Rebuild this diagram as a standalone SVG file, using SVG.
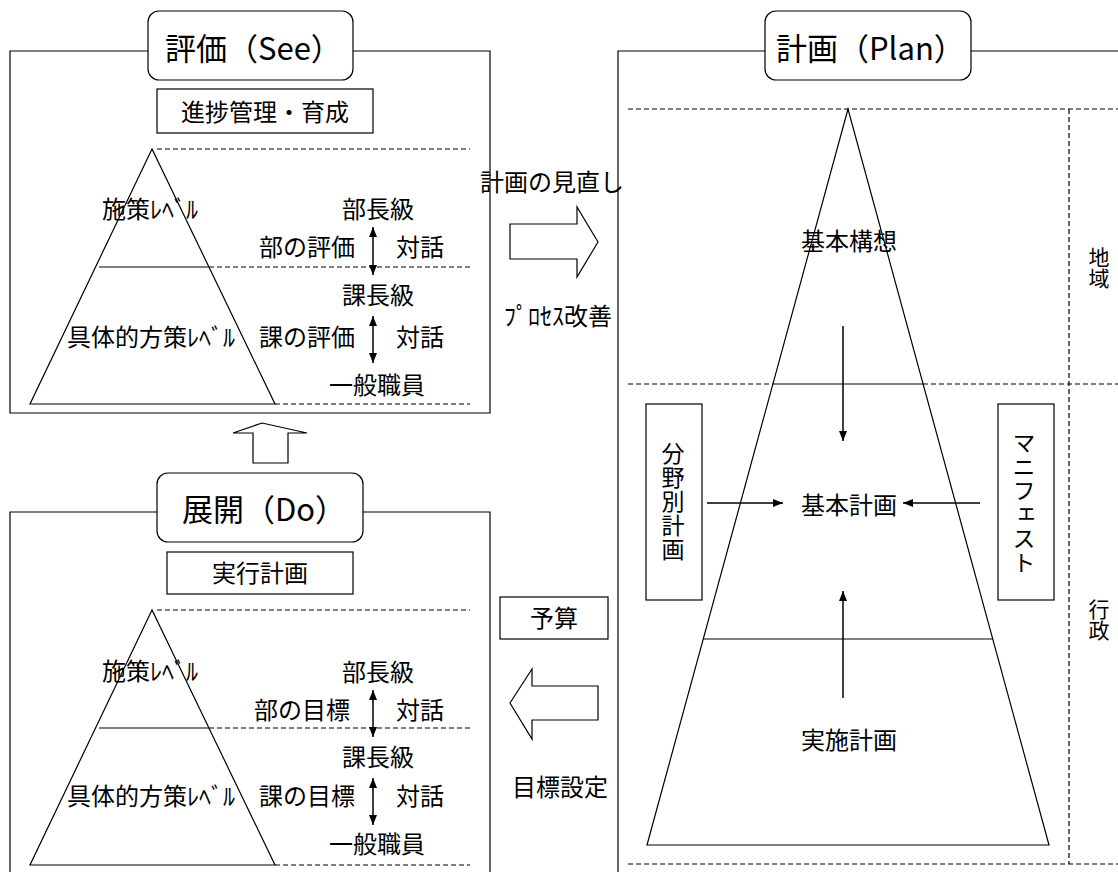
<svg xmlns="http://www.w3.org/2000/svg" width="1118" height="872" viewBox="0 0 1118 872">
<style>
text{font-family:"Noto Sans CJK JP","Noto Sans CJK SC",sans-serif;fill:#000;}
.t{font-size:24px;}
.h{font-size:31px;}
.v{font-size:21px;writing-mode:vertical-rl;}
.vc{font-size:23px;writing-mode:vertical-rl;letter-spacing:1px;}
.c{text-anchor:middle;}
.ln{stroke:#000;stroke-width:1.2;fill:none;}
.dash{stroke:#000;stroke-width:1.2;fill:none;stroke-dasharray:5 3;}
.box{stroke:#000;stroke-width:1.2;fill:#fff;}
.arr{stroke:#000;stroke-width:1.5;fill:none;}
</style>
<defs>
<marker id="ah" viewBox="0 0 10 8" refX="10" refY="4" markerWidth="10" markerHeight="8" markerUnits="userSpaceOnUse" orient="auto-start-reverse">
<path d="M0,0 L10,4 L0,8 z" fill="#000"/>
</marker>
</defs>
<rect width="1118" height="872" fill="#fff"/>

<g id="see-panel">
<path class="ln" d="M148,51 H10 V413 H490 V51 H353"/>
<line class="dash" x1="157" y1="149" x2="470" y2="149"/>
<path class="ln" d="M152,149 L30,404 H275 Z"/>
<line class="ln" x1="99" y1="267" x2="209" y2="267"/>
<line class="dash" x1="209" y1="267" x2="470" y2="267"/>
<line class="dash" x1="275" y1="404" x2="470" y2="404"/>
<text class="t" x="102" y="218">施策ﾚﾍﾞﾙ</text>
<text class="t" x="67" y="346">具体的方策ﾚﾍﾞﾙ</text>
<text class="t" x="342" y="218">部長級</text>
<text class="t" x="259" y="256">部の評価</text>
<text class="t" x="396" y="256">対話</text>
<text class="t" x="342" y="304">課長級</text>
<text class="t" x="259" y="346">課の評価</text>
<text class="t" x="396" y="346">対話</text>
<text class="t" x="329" y="394">一般職員</text>
</g>
<g id="see-title">
<rect class="box" x="148" y="11" width="205" height="69" rx="11"/>
<text class="h" x="165" y="60">評価（See）</text>
</g>
<g id="see-sub">
<rect class="box" x="157" y="89" width="216" height="44"/>
<text class="t c" x="265" y="121">進捗管理・育成</text>
</g>

<g id="do-panel">
<path class="ln" d="M157,512 H10 V872 M490,872 V512 H363"/>
<line class="dash" x1="157" y1="610" x2="470" y2="610"/>
<path class="ln" d="M152,610 L30,865 H275 Z"/>
<line class="ln" x1="99" y1="728" x2="209" y2="728"/>
<line class="dash" x1="209" y1="728" x2="470" y2="728"/>
<line class="dash" x1="275" y1="865" x2="470" y2="865"/>
<text class="t" x="102" y="680">施策ﾚﾍﾞﾙ</text>
<text class="t" x="67" y="805">具体的方策ﾚﾍﾞﾙ</text>
<text class="t" x="342" y="681">部長級</text>
<text class="t" x="254" y="719">部の目標</text>
<text class="t" x="396" y="719">対話</text>
<text class="t" x="342" y="766">課長級</text>
<text class="t" x="259" y="805">課の目標</text>
<text class="t" x="396" y="805">対話</text>
<text class="t" x="329" y="853">一般職員</text>
</g>
<g id="do-title">
<rect class="box" x="157" y="473" width="206" height="69" rx="11"/>
<text class="h" x="182" y="521">展開（Do）</text>
</g>
<g id="do-sub">
<rect class="box" x="167" y="552" width="186" height="42"/>
<text class="t c" x="260" y="582">実行計画</text>
</g>

<g id="plan-panel">
<path class="ln" d="M765,51 H618 V872 M971,51 H1118"/>
<line class="dash" x1="628" y1="109" x2="1118" y2="109"/>
<line class="dash" x1="628" y1="384" x2="773" y2="384"/>
<line class="ln" x1="773" y1="384" x2="923" y2="384"/>
<line class="dash" x1="923" y1="384" x2="1118" y2="384"/>
<line class="dash" x1="628" y1="864" x2="1118" y2="864"/>
<line class="dash" x1="1069" y1="109" x2="1069" y2="864"/>
<path class="ln" d="M848,109 L647,845 H1049 Z"/>
<line class="ln" x1="703" y1="639" x2="993" y2="639"/>
<text class="t" x="801" y="250">基本構想</text>
<text class="t" x="801" y="514">基本計画</text>
<text class="t" x="801" y="749">実施計画</text>
<text class="v" x="1099" y="247">地域</text>
<text class="v" x="1099" y="599">行政</text>
</g>
<g id="plan-title">
<rect class="box" x="765" y="11" width="206" height="69" rx="11"/>
<text class="h" x="776" y="60">計画（Plan）</text>
</g>
<g id="bunya">
<rect class="box" x="646" y="404" width="56" height="196"/>
<text class="vc" x="673" y="442">分野別計画</text>
</g>
<g id="manifest">
<rect class="box" x="998" y="404" width="56" height="196"/>
<text class="vc" x="1024" y="431">マニフェスト</text>
</g>

<g id="middle">
<text class="t" x="480" y="191">計画の見直し</text>
<text class="t" x="504" y="325">ﾌﾟﾛｾｽ改善</text>
<text class="t" x="512" y="796">目標設定</text>
</g>
<g id="yosan">
<rect class="box" x="500" y="597" width="108" height="42"/>
<text class="t c" x="554" y="627">予算</text>
</g>

<g id="connectors">
<line class="arr" x1="373" y1="227" x2="373" y2="275" marker-start="url(#ah)" marker-end="url(#ah)"/>
<line class="arr" x1="373" y1="316" x2="373" y2="363" marker-start="url(#ah)" marker-end="url(#ah)"/>
<line class="arr" x1="373" y1="690" x2="373" y2="737" marker-start="url(#ah)" marker-end="url(#ah)"/>
<line class="arr" x1="373" y1="778" x2="373" y2="825" marker-start="url(#ah)" marker-end="url(#ah)"/>
<line class="arr" x1="843" y1="326" x2="843" y2="441" marker-end="url(#ah)"/>
<line class="arr" x1="843" y1="698" x2="843" y2="591" marker-end="url(#ah)"/>
<line class="arr" x1="707" y1="503" x2="783" y2="503" marker-end="url(#ah)"/>
<line class="arr" x1="980" y1="503" x2="903" y2="503" marker-end="url(#ah)"/>
<path class="box" d="M262,423 L307,433 H288 V463 H253 V433 H233 Z"/>
<path class="box" d="M598,242 L577,207 V224 H510 V259 H577 V277 Z"/>
<path class="box" d="M510,703 L532,669 V686 H598 V720 H532 V739 Z"/>
</g>
</svg>
